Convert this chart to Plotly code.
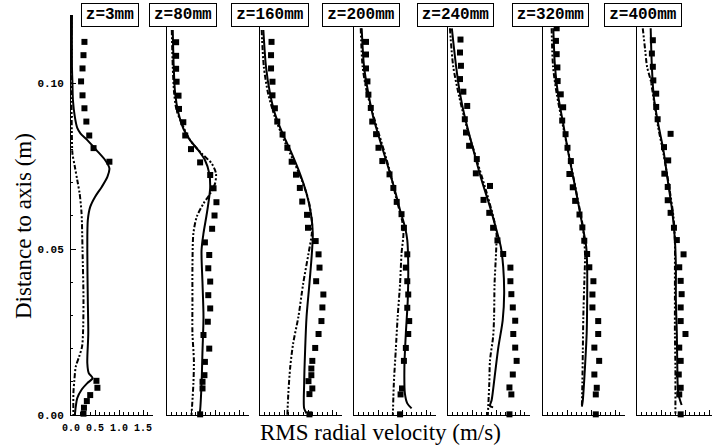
import plotly.graph_objects as go

# ---------------- data ----------------
panel_labels = ["z=3mm", "z=80mm", "z=160mm", "z=200mm", "z=240mm", "z=320mm", "z=400mm"]

# Panel 1 : z = 3 mm
p1_exp_r = [0.1124, 0.1084, 0.1044, 0.1005, 0.0963, 0.0924, 0.0884, 0.0842, 0.0804, 0.0763,
            0.0103, 0.0082, 0.0060, 0.0042, 0.0022, 0.0004]
p1_exp_u = [0.28, 0.26, 0.24, 0.21, 0.24, 0.28, 0.32, 0.38, 0.47, 0.80,
            0.53, 0.55, 0.40, 0.33, 0.27, 0.26]
p1_sol_r = [0.1205, 0.1049, 0.0999, 0.0949, 0.0898, 0.0865, 0.0848, 0.0828, 0.0798, 0.0768, 0.0743,
            0.0718, 0.0687, 0.0657, 0.0627, 0.0587, 0.0497, 0.0347, 0.0246, 0.0156, 0.0126,
            0.0111, 0.0096, 0.0076, 0.0051, 0.0026, 0.0]
p1_sol_u = [0.02, 0.02, 0.03, 0.04, 0.08, 0.13, 0.20, 0.34, 0.53, 0.71, 0.80,
            0.76, 0.64, 0.50, 0.40, 0.35, 0.34, 0.35, 0.36, 0.34, 0.37,
            0.45, 0.34, 0.22, 0.13, 0.10, 0.08]
p1_dd_r = [0.1205, 0.0949, 0.0828, 0.0788, 0.0748, 0.0708, 0.0667, 0.0607, 0.0497, 0.0347,
           0.0246, 0.0206, 0.0176, 0.0146, 0.0105, 0.0065, 0.0]
p1_dd_u = [0.01, 0.01, 0.02, 0.03, 0.08, 0.13, 0.18, 0.22, 0.24, 0.26,
           0.25, 0.23, 0.17, 0.10, 0.07, 0.05, 0.05]

# Panel 2 : z = 80 mm
p2_exp_r = [0.1123, 0.1082, 0.1043, 0.1004, 0.0962, 0.0922, 0.0882, 0.0842, 0.0801, 0.0761,
            0.0723, 0.0683, 0.0641, 0.0601, 0.0561, 0.0520, 0.0482, 0.0442, 0.0402, 0.0361,
            0.0321, 0.0281, 0.0241, 0.0200, 0.0160, 0.0120, 0.0100, 0.0080, 0.0002]
p2_exp_u = [0.19, 0.19, 0.19, 0.20, 0.24, 0.25, 0.34, 0.38, 0.50, 0.69,
            0.90, 0.97, 1.03, 0.99, 0.94, 0.79, 0.88, 0.86, 0.90, 0.86,
            0.90, 0.85, 0.76, 0.88, 0.79, 0.78, 0.74, 0.74, 0.69]
p2_sol_r = [0.1160, 0.1049, 0.0968, 0.0908, 0.0863, 0.0828, 0.0798, 0.0768, 0.0728, 0.0687,
            0.0657, 0.0607, 0.0547, 0.0497, 0.0396, 0.0296, 0.0195, 0.0095, 0.0015, 0.0]
p2_sol_u = [0.12, 0.14, 0.17, 0.24, 0.34, 0.48, 0.65, 0.79, 0.88, 0.90,
            0.88, 0.83, 0.76, 0.72, 0.74, 0.76, 0.74, 0.72, 0.69, 0.67]
p2_dd_r = [0.1160, 0.1049, 0.0968, 0.0918, 0.0878, 0.0828, 0.0788, 0.0758, 0.0728, 0.0697,
           0.0667, 0.0637, 0.0597, 0.0547, 0.0446, 0.0346, 0.0246, 0.0165, 0.0095, 0.0]
p2_dd_u = [0.10, 0.12, 0.15, 0.20, 0.31, 0.48, 0.72, 0.93, 1.02, 1.00,
           0.90, 0.76, 0.62, 0.55, 0.53, 0.53, 0.53, 0.56, 0.55, 0.51]

# Panel 3 : z = 160 mm
p3_exp_r = [0.1124, 0.1084, 0.1044, 0.1004, 0.0963, 0.0924, 0.0884, 0.0845, 0.0805, 0.0763,
            0.0724, 0.0684, 0.0643, 0.0603, 0.0564, 0.0524, 0.0484, 0.0444, 0.0403, 0.0363,
            0.0324, 0.0283, 0.0244, 0.0202, 0.0163, 0.0140, 0.0120, 0.0102, 0.0080, 0.0063, 0.0002]
p3_exp_u = [0.24, 0.23, 0.23, 0.26, 0.26, 0.31, 0.36, 0.47, 0.57, 0.66,
            0.75, 0.83, 0.88, 0.98, 1.00, 1.16, 1.22, 1.24, 1.17, 1.32,
            1.30, 1.28, 1.22, 1.15, 1.09, 1.07, 1.07, 1.01, 1.09, 1.03, 1.03]
p3_sol_r = [0.1160, 0.1049, 0.0968, 0.0908, 0.0848, 0.0788, 0.0728, 0.0667, 0.0607, 0.0547,
            0.0486, 0.0396, 0.0296, 0.0195, 0.0095, 0.0020, 0.0005]
p3_sol_u = [0.07, 0.125, 0.21, 0.31, 0.47, 0.66, 0.83, 0.97, 1.06, 1.10,
            1.08, 1.03, 0.97, 0.94, 0.92, 0.92, 0.97]
p3_dd_r = [0.1160, 0.1049, 0.0968, 0.0898, 0.0828, 0.0768, 0.0708, 0.0647, 0.0587, 0.0547,
           0.0486, 0.0396, 0.0296, 0.0215, 0.0145, 0.0065, 0.0]
p3_dd_u = [0.035, 0.08, 0.17, 0.31, 0.50, 0.69, 0.87, 1.01, 1.08, 1.08,
           1.01, 0.90, 0.80, 0.69, 0.63, 0.59, 0.57]

# Panel 4 : z = 200 mm
p4_exp_r = [0.1124, 0.1086, 0.1044, 0.1005, 0.0965, 0.0925, 0.0884, 0.0846, 0.0805, 0.0765,
            0.0725, 0.0684, 0.0642, 0.0605, 0.0564, 0.0484, 0.0444, 0.0403, 0.0363, 0.0323,
            0.0283, 0.0244, 0.0202, 0.0163, 0.0080, 0.0062, 0.0002]
p4_exp_u = [0.25, 0.25, 0.25, 0.28, 0.30, 0.35, 0.38, 0.46, 0.51, 0.59,
            0.74, 0.82, 0.89, 0.99, 1.04, 1.11, 1.08, 1.11, 1.13, 1.11,
            1.15, 1.13, 1.08, 1.04, 1.00, 0.97, 0.96]
p4_sol_r = [0.1165, 0.1049, 0.0968, 0.0898, 0.0828, 0.0748, 0.0678, 0.0617, 0.0567, 0.0527,
            0.0446, 0.0346, 0.0246, 0.0145, 0.0065, 0.0035, 0.0020]
p4_sol_u = [0.16, 0.21, 0.30, 0.40, 0.54, 0.71, 0.85, 0.96, 1.06, 1.11,
            1.13, 1.12, 1.08, 1.05, 1.06, 1.11, 1.20]
p4_dd_r = [0.1165, 0.1049, 0.0978, 0.0908, 0.0818, 0.0738, 0.0647, 0.0587, 0.0547, 0.0486,
           0.0396, 0.0296, 0.0195, 0.0095, 0.0]
p4_dd_u = [0.14, 0.18, 0.26, 0.39, 0.58, 0.74, 0.89, 1.00, 1.03, 0.99,
           0.96, 0.91, 0.87, 0.83, 0.81]

# Panel 5 : z = 240 mm
p5_exp_r = [0.1131, 0.1092, 0.1052, 0.1012, 0.0974, 0.0931, 0.0891, 0.0851, 0.0811, 0.0771,
            0.0728, 0.0690, 0.0648, 0.0609, 0.0564, 0.0526, 0.0485, 0.0444, 0.0403, 0.0364,
            0.0324, 0.0284, 0.0244, 0.0203, 0.0163, 0.0122, 0.0083, 0.0062, 0.0002]
p5_exp_u = [0.26, 0.25, 0.27, 0.25, 0.32, 0.40, 0.35, 0.375, 0.44, 0.60,
            0.58, 0.875, 0.74, 0.86, 0.94, 1.03, 1.15, 1.30, 1.30, 1.32,
            1.35, 1.40, 1.36, 1.40, 1.43, 1.35, 1.28, 1.32, 1.28]
p5_sol_r = [0.1165, 0.1049, 0.0968, 0.0898, 0.0798, 0.0708, 0.0627, 0.0557, 0.0507, 0.0446,
            0.0366, 0.0286, 0.0205, 0.0125, 0.0045, 0.0027, 0.0023]
p5_sol_u = [0.08, 0.17, 0.25, 0.35, 0.53, 0.70, 0.875, 1.01, 1.10, 1.15,
            1.17, 1.14, 1.05, 0.98, 0.91, 0.875, 0.94]
p5_dd_r = [0.1165, 0.1049, 0.0958, 0.0868, 0.0768, 0.0667, 0.0587, 0.0547, 0.0486, 0.0396,
           0.0296, 0.0236, 0.0165, 0.0095, 0.0]
p5_dd_u = [0.04, 0.11, 0.235, 0.39, 0.60, 0.81, 0.96, 1.01, 1.00, 0.97,
           0.96, 0.94, 0.875, 0.86, 0.83]

# Panel 6 : z = 320 mm
p6_exp_r = [0.1165, 0.1127, 0.1087, 0.1047, 0.1006, 0.0966, 0.0927, 0.0887, 0.0846, 0.0805,
            0.0765, 0.0726, 0.0686, 0.0645, 0.0604, 0.0565, 0.0525, 0.0485, 0.0445, 0.0403,
            0.0363, 0.0324, 0.0283, 0.0244, 0.0203, 0.0163, 0.0122, 0.0082, 0.0062, 0.0002]
p6_exp_u = [0.285, 0.27, 0.285, 0.30, 0.305, 0.37, 0.42, 0.40, 0.47, 0.51,
            0.58, 0.55, 0.62, 0.67, 0.76, 0.82, 0.86, 0.92, 0.965, 1.05,
            1.03, 1.03, 1.15, 1.15, 1.07, 1.17, 1.07, 1.12, 1.10, 1.10]
p6_sol_r = [0.1165, 0.1049, 0.0958, 0.0878, 0.0788, 0.0687, 0.0587, 0.0507, 0.0446, 0.0346,
            0.0246, 0.0145, 0.0045, 0.0025]
p6_sol_u = [0.215, 0.25, 0.32, 0.42, 0.53, 0.67, 0.80, 0.90, 0.92, 0.92,
            0.91, 0.875, 0.83, 0.81]
p6_dd_r = [0.1165, 0.1049, 0.0968, 0.0868, 0.0768, 0.0667, 0.0567, 0.0486, 0.0396, 0.0296,
           0.0195, 0.0095, 0.0025]
p6_dd_u = [0.18, 0.21, 0.285, 0.42, 0.5625, 0.70, 0.83, 0.875, 0.86, 0.84,
           0.83, 0.82, 0.81]

# Panel 7 : z = 400 mm
p7_exp_r = [0.1129, 0.1089, 0.1049, 0.1008, 0.0968, 0.0928, 0.0891, 0.0847, 0.0807, 0.0767,
            0.0727, 0.0687, 0.0647, 0.0609, 0.0564, 0.0527, 0.0484, 0.0445, 0.0404, 0.0364,
            0.0324, 0.0283, 0.0244, 0.0203, 0.0163, 0.0122, 0.0082, 0.0062, 0.0002]
p7_exp_u = [0.33, 0.31, 0.33, 0.34, 0.40, 0.40, 0.43, 0.70, 0.5625, 0.65,
            0.57, 0.64, 0.64, 0.70, 0.77, 0.83, 0.97, 0.88, 0.91, 0.93,
            0.91, 0.91, 1.01, 0.88, 0.91, 0.87, 0.91, 0.88, 0.91]
p7_sol_r = [0.1165, 0.1049, 0.0958, 0.0878, 0.0798, 0.0697, 0.0607, 0.0527, 0.0446, 0.0346,
            0.0246, 0.0145, 0.0065, 0.0030]
p7_sol_u = [0.285, 0.31, 0.35, 0.44, 0.55, 0.65, 0.74, 0.79, 0.81, 0.81,
            0.83, 0.84, 0.86, 0.93]
p7_dd_r = [0.1165, 0.1100, 0.1049, 0.1008, 0.0949, 0.0868, 0.0788, 0.0687, 0.0597, 0.0527,
           0.0446, 0.0346, 0.0246, 0.0145, 0.0]
p7_dd_u = [0.12, 0.17, 0.21, 0.285, 0.35, 0.44, 0.55, 0.67, 0.76, 0.79,
           0.79, 0.79, 0.79, 0.80, 0.80]

x_tickvals = [0.0, 0.5, 1.0, 1.5]
x_ticktext = ["0.0", "0.5", "1.0", "1.5"]
y_tickvals = [0.0, 0.05, 0.10]
y_ticktext = ["0.00", "0.05", "0.10"]
y_max = 0.1205

panels = [
    (p1_exp_r, p1_exp_u, p1_sol_r, p1_sol_u, p1_dd_r, p1_dd_u),
    (p2_exp_r, p2_exp_u, p2_sol_r, p2_sol_u, p2_dd_r, p2_dd_u),
    (p3_exp_r, p3_exp_u, p3_sol_r, p3_sol_u, p3_dd_r, p3_dd_u),
    (p4_exp_r, p4_exp_u, p4_sol_r, p4_sol_u, p4_dd_r, p4_dd_u),
    (p5_exp_r, p5_exp_u, p5_sol_r, p5_sol_u, p5_dd_r, p5_dd_u),
    (p6_exp_r, p6_exp_u, p6_sol_r, p6_sol_u, p6_dd_r, p6_dd_u),
    (p7_exp_r, p7_exp_u, p7_sol_r, p7_sol_u, p7_dd_r, p7_dd_u),
]

# ---------------- layout geometry ----------------
W, H = 712, 448
panel_left = [71, 167, 260, 354, 448, 543, 637]
panel_width = 82
px_per_unit = 48.0
plot_top, plot_bottom = 15, 415
box_lr = [(81, 139), (149, 217), (231, 309), (322, 400), (417, 494), (512, 589), (604, 682)]
box_top, box_bottom = 3, 27

mono = "Liberation Mono, Courier New, monospace"
serif = "Liberation Serif, Times New Roman, serif"

fig = go.Figure()
layout = dict(
    width=W, height=H,
    margin=dict(l=0, r=0, t=0, b=0, autoexpand=False),
    paper_bgcolor="white", plot_bgcolor="white",
    showlegend=False,
)

ydom = [(H - plot_bottom) / H, (H - plot_top) / H]
for i, (er, eu, sr, su, dr, du) in enumerate(panels):
    n = "" if i == 0 else str(i + 1)
    xa, ya = "x" + n, "y" + n
    left = panel_left[i]
    right = min(left + panel_width, W)
    xmax = (right - left) / px_per_unit
    layout["xaxis" + n] = dict(
        domain=[left / W, right / W], anchor=ya, range=[0, xmax],
        showline=True, linecolor="black", linewidth=1, showgrid=False, zeroline=False,
        ticks="inside", ticklen=5, tickcolor="black", tickwidth=1,
        tickvals=x_tickvals, ticktext=x_ticktext, tickangle=0,
        minor=dict(ticks="inside", ticklen=3, dtick=0.1, tick0=0, tickcolor="black", tickwidth=1, showgrid=False),
        showticklabels=(i == 0), ticklabelstandoff=3, automargin=False,
        tickfont=dict(family=mono, size=10, color="black", weight="bold"),
        fixedrange=True,
    )
    layout["yaxis" + n] = dict(
        domain=ydom, anchor=xa, range=[0, y_max],
        showline=True, linecolor="black", linewidth=1, showgrid=False, zeroline=False,
        ticks="inside" if i == 0 else "", ticklen=5, tickcolor="black",
        tickvals=y_tickvals, ticktext=y_ticktext,
        minor=dict(ticks="inside" if i == 0 else "", ticklen=2, dtick=0.01, tick0=0,
                   tickcolor="black", showgrid=False),
        showticklabels=(i == 0), ticklabelstandoff=4, automargin=False,
        tickfont=dict(family=mono, size=11, color="black", weight="bold"),
        fixedrange=True,
    )
    fig.add_trace(go.Scatter(
        x=du, y=dr, xaxis=xa, yaxis=ya, mode="lines",
        line=dict(color="black", width=2, dash="5px,2px,2px,2px,2px,2px",
                  shape="spline", smoothing=0.8),
        hoverinfo="skip"))
    fig.add_trace(go.Scatter(
        x=su, y=sr, xaxis=xa, yaxis=ya, mode="lines",
        line=dict(color="black", width=2, shape="spline", smoothing=0.8),
        hoverinfo="skip"))
    fig.add_trace(go.Scatter(
        x=eu, y=er, xaxis=xa, yaxis=ya, mode="markers",
        marker=dict(symbol="square", size=6, color="black", line=dict(width=0)),
        cliponaxis=False, hoverinfo="skip"))

annotations = []
for i, lab in enumerate(panel_labels):
    l, r = box_lr[i]
    annotations.append(dict(
        text="<b>" + lab + "</b>", xref="paper", yref="paper",
        x=(l + r) / 2 / W, y=1 - (box_top + box_bottom) / 2 / H,
        xanchor="center", yanchor="middle", showarrow=False,
        width=r - l - 4, height=box_bottom - box_top - 4,
        bordercolor="black", borderwidth=1, borderpad=1, bgcolor="white",
        font=dict(family=mono, size=16, color="black"),
    ))
annotations.append(dict(
    text="RMS radial velocity (m/s)", xref="paper", yref="paper",
    x=380 / W, y=1 - 432 / H, xanchor="center", yanchor="middle", showarrow=False,
    font=dict(family=serif, size=23, color="black"),
))
annotations.append(dict(
    text="Distance to axis (m)", xref="paper", yref="paper",
    x=23 / W, y=1 - 226 / H, xanchor="center", yanchor="middle", showarrow=False,
    textangle=-90, font=dict(family=serif, size=23, color="black"),
))
layout["annotations"] = annotations
fig.update_layout(**layout)
fig.write_html("out.html", config={"displayModeBar": False, "staticPlot": True},
               post_script="document.body.style.margin='0';document.body.style.overflow='hidden';")
